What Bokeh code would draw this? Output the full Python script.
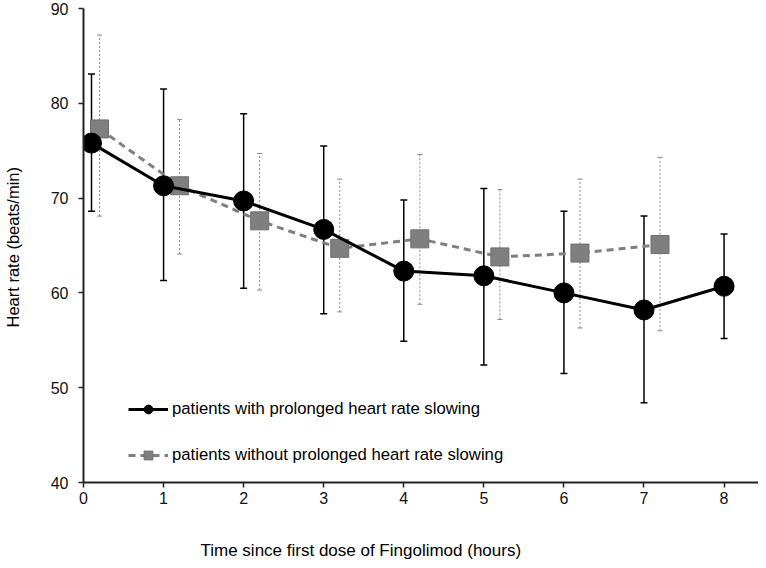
from bokeh.plotting import figure
from bokeh.models import (ColumnDataSource, Whisker, TeeHead, Legend, LegendItem,
                          Range1d, FixedTicker, Title)
from bokeh.embed import file_html
from bokeh.resources import INLINE

# ---- data ----
hours_a = [0.1, 1, 2, 3, 4, 5, 6, 7, 8]
mean_a = [75.8, 71.3, 69.7, 66.7, 62.3, 61.8, 60.0, 58.2, 60.7]
upper_a = [83.1, 81.5, 78.9, 75.5, 69.8, 71.0, 68.6, 68.1, 66.2]
lower_a = [68.6, 61.3, 60.5, 57.8, 54.9, 52.4, 51.5, 48.4, 55.2]

hours_b = [0, 1, 2, 3, 4, 5, 6, 7]
mean_b = [77.3, 71.3, 67.6, 64.7, 65.7, 63.8, 64.2, 65.1]
upper_b = [87.2, 78.3, 74.7, 72.0, 74.6, 70.9, 72.0, 74.3]
lower_b = [68.1, 64.1, 60.3, 58.0, 58.8, 57.2, 56.3, 56.0]
offset_b = 0.2  # horizontal dodge of the second series

x_ticks = [0, 1, 2, 3, 4, 5, 6, 7, 8]
y_ticks = [40, 50, 60, 70, 80, 90]

label_a = "patients with prolonged heart rate slowing"
label_b = "patients without prolonged heart rate slowing"
x_title = "Time since first dose of Fingolimod (hours)"
y_title = "Heart rate (beats/min)"

FONT = "Liberation Sans"
NBSP = "\u00a0"  # invisible axis label, used only as spacing

src_a = ColumnDataSource(dict(x=hours_a, y=mean_a, up=upper_a, lo=lower_a))
src_b = ColumnDataSource(dict(x=[h + offset_b for h in hours_b], y=mean_b,
                              up=upper_b, lo=lower_b))

p = figure(width=758, height=560, output_backend="svg", toolbar_location=None,
           x_range=Range1d(0, 8.43), y_range=Range1d(40, 90),
           min_border_left=83, min_border_right=0, min_border_top=8,
           min_border_bottom=78)
p.outline_line_color = None
p.grid.visible = False
p.background_fill_color = "white"

# error bars
wb = Whisker(source=src_b, base="x", upper="up", lower="lo",
             line_color="#8a8a8a", line_width=1, line_dash="2 2",
             upper_head=TeeHead(size=5, line_color="#8a8a8a", line_width=1),
             lower_head=TeeHead(size=5, line_color="#8a8a8a", line_width=1))
wa = Whisker(source=src_a, base="x", upper="up", lower="lo",
             line_color="black", line_width=1.5,
             upper_head=TeeHead(size=7, line_color="black", line_width=1.5),
             lower_head=TeeHead(size=7, line_color="black", line_width=1.5))
p.add_layout(wb)
p.add_layout(wa)

lb = p.line("x", "y", source=src_b, line_color="#7f7f7f", line_width=3,
            line_dash="7 5")
sb = p.scatter("x", "y", source=src_b, marker="square", size=18,
               fill_color="#7f7f7f", line_color="#6e6e6e", line_width=1)
la = p.line("x", "y", source=src_a, line_color="black", line_width=3)
sa = p.scatter("x", "y", source=src_a, marker="circle", size=20,
               fill_color="black", line_color="black")

legend = Legend(items=[LegendItem(label=label_a, renderers=[la, sa]),
                       LegendItem(label=label_b, renderers=[lb, sb])],
                location=(45, 16), orientation="vertical",
                glyph_width=40, glyph_height=22, label_standoff=4,
                spacing=24, padding=0, margin=0,
                background_fill_alpha=0, border_line_alpha=0,
                label_text_font=FONT, label_text_font_size="16.7px",
                label_text_color="black")
p.add_layout(legend)

# axes
for ax in (p.xaxis[0], p.yaxis[0]):
    ax.axis_line_color = "#222222"
    ax.axis_line_width = 2
    ax.major_tick_line_color = "#222222"
    ax.major_tick_line_width = 1.5
    ax.major_tick_in = 0
    ax.major_tick_out = 5
    ax.minor_tick_line_color = None
    ax.major_label_text_font = FONT
    ax.major_label_text_font_size = "16px"
    ax.major_label_text_color = "#111111"
    ax.axis_label = NBSP
    ax.axis_label_text_font = FONT
    ax.axis_label_text_font_size = "16px"

p.xaxis.ticker = FixedTicker(ticks=x_ticks)
p.yaxis.ticker = FixedTicker(ticks=y_ticks)
p.xaxis.major_label_standoff = 4
p.yaxis.major_label_standoff = 10
p.xaxis.axis_label_standoff = 12
p.yaxis.axis_label_standoff = 6

p.add_layout(Title(text=y_title, align="left", offset=155,
                   text_font=FONT, text_font_size="16.5px",
                   text_font_style="normal", text_color="black",
                   standoff=0), "left")
p.add_layout(Title(text=x_title, align="left", offset=117,
                   vertical_align="bottom",
                   text_font=FONT, text_font_size="17px",
                   text_font_style="normal", text_color="black",
                   standoff=0), "below")

open("out.html", "w").write(file_html(p, INLINE))
